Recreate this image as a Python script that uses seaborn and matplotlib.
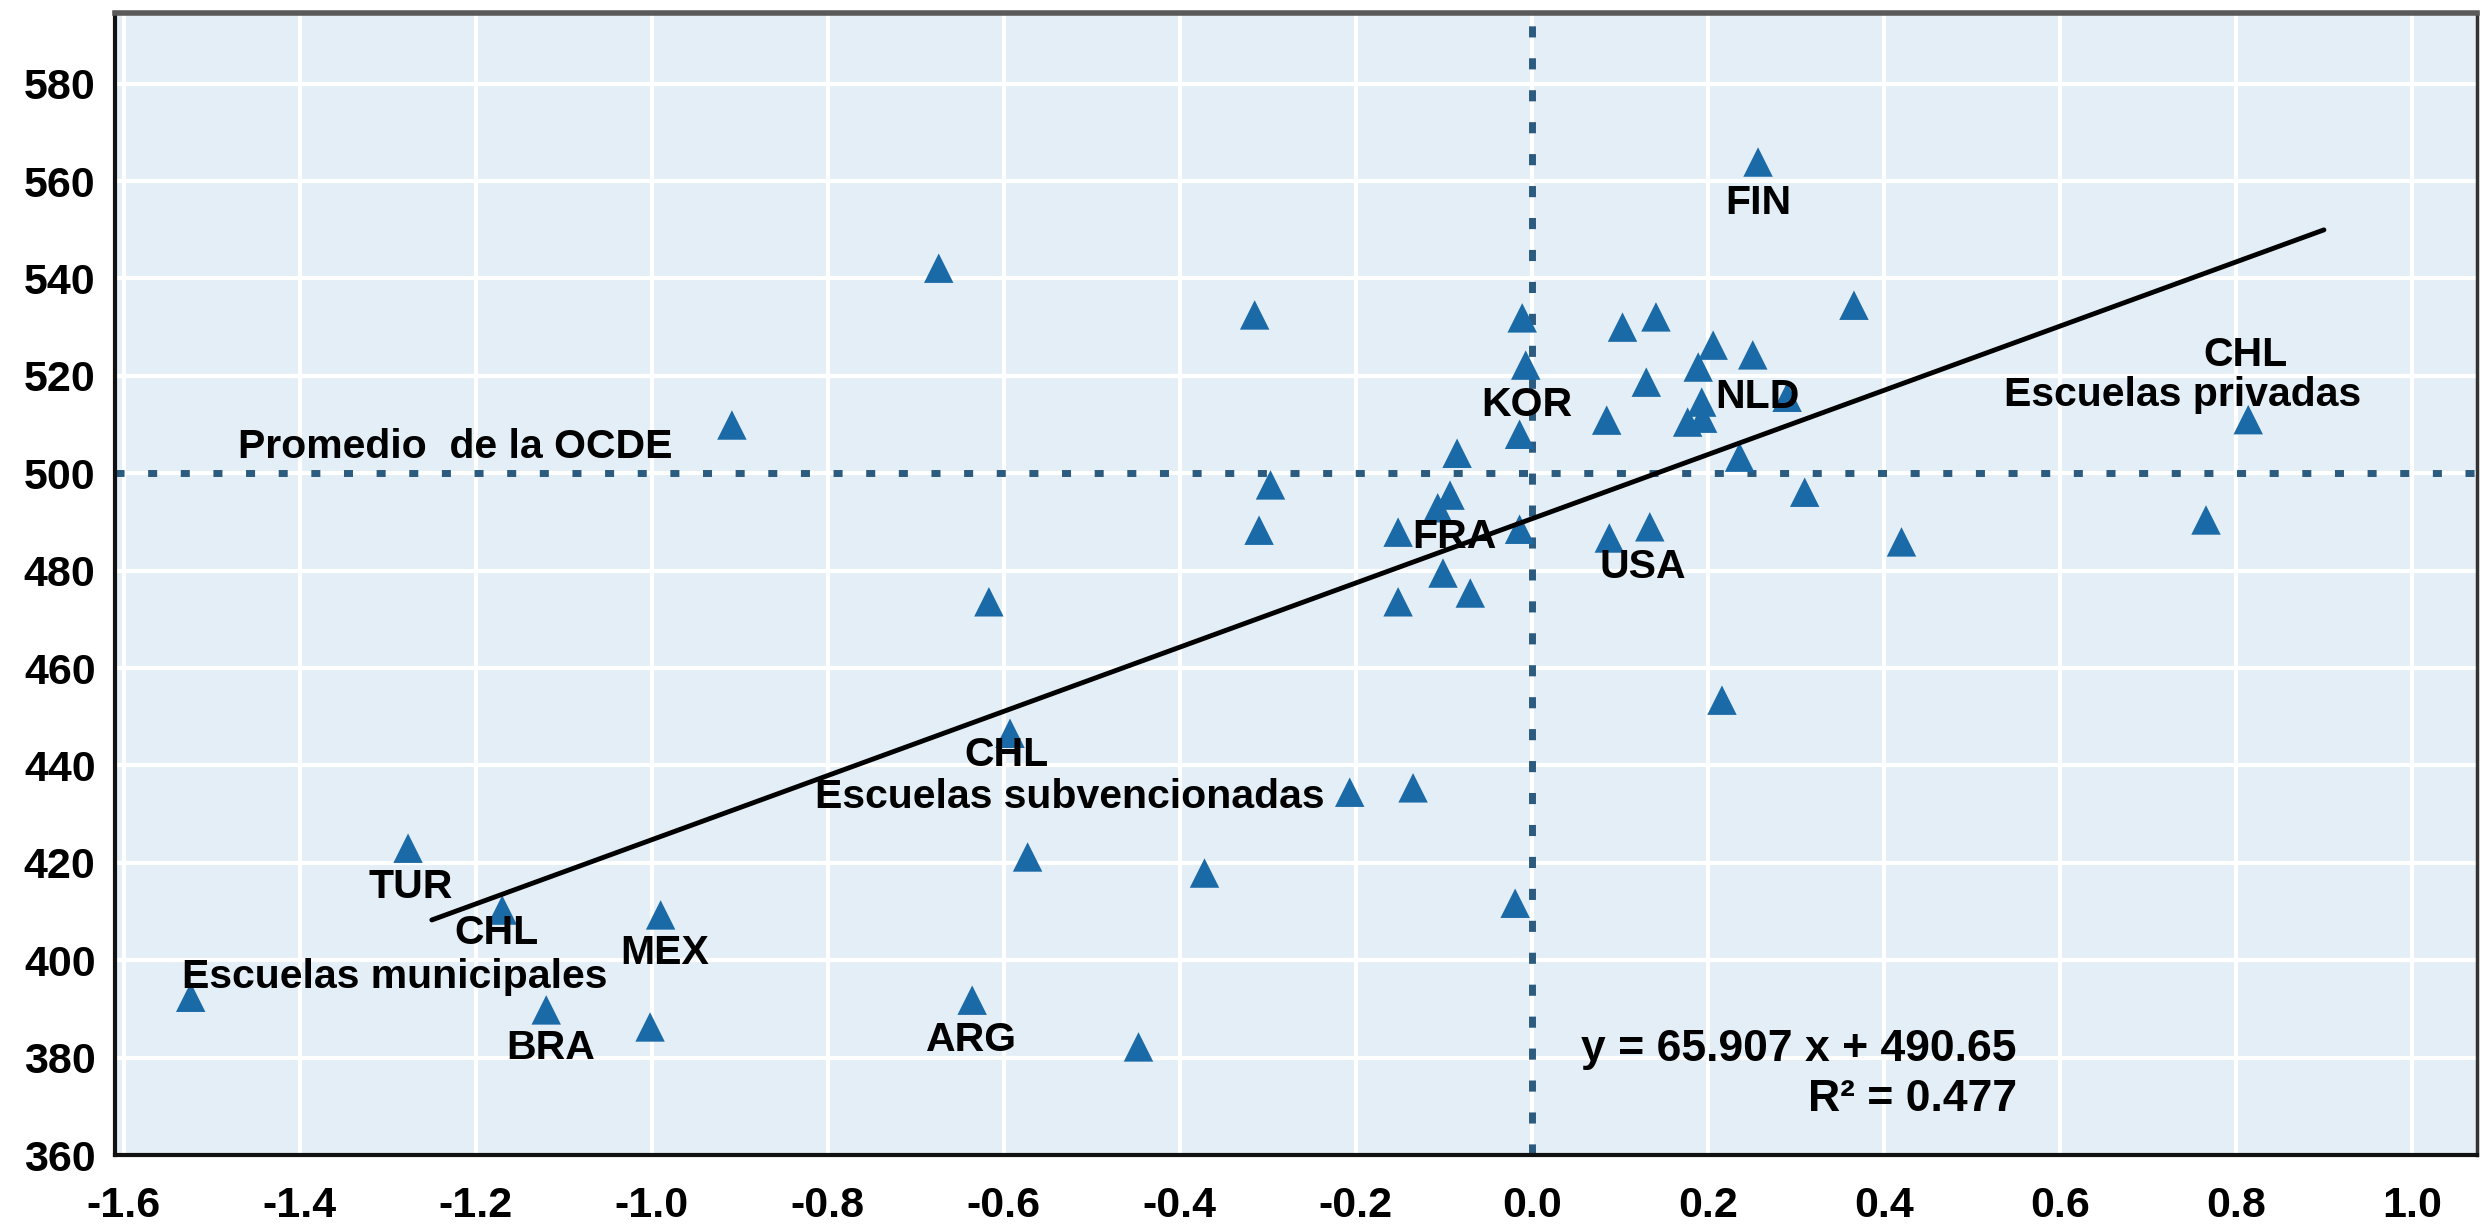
import matplotlib
matplotlib.use("Agg")
import matplotlib.pyplot as plt
import seaborn as sns
import pandas as pd

# índice socioeconómico (x) y puntuación media (y)
x_index = [-1.524, -1.277, -1.170, -1.120, -1.002, -0.990, -0.909, -0.674,
           -0.636, -0.617, -0.593, -0.573, -0.447, -0.372, -0.315, -0.310,
           -0.297, -0.207, -0.152, -0.152, -0.135, -0.107, -0.101, -0.093,
           -0.085, -0.070, -0.019, -0.014, -0.014, -0.011, -0.007, 0.085,
           0.088, 0.103, 0.130, 0.134, 0.141, 0.177, 0.189, 0.193, 0.194,
           0.206, 0.216, 0.236, 0.251, 0.257, 0.290, 0.310, 0.366, 0.420,
           0.766, 0.814]
score = [392.4, 423.0, 410.3, 389.8, 386.3, 409.3, 509.9, 542.1,
         391.8, 473.6, 446.6, 421.2, 382.2, 417.9, 532.5, 488.3,
         497.6, 434.5, 487.9, 473.6, 435.4, 492.9, 479.5, 495.5,
         504.1, 475.4, 411.7, 488.5, 508.0, 531.9, 522.2, 510.9,
         486.7, 530.0, 518.7, 489.0, 532.1, 510.5, 521.8, 514.6, 511.3,
         526.3, 453.4, 503.3, 524.3, 563.9, 515.6, 496.1, 534.5, 485.9,
         490.4, 511.0]

# recta de regresión
slope = 65.907
intercept = 490.65
line_x = [-1.25, 0.90]
oecd_mean = 500

x_ticks = [-1.6, -1.4, -1.2, -1.0, -0.8, -0.6, -0.4, -0.2, 0.0, 0.2, 0.4, 0.6, 0.8, 1.0]
y_ticks = [360, 380, 400, 420, 440, 460, 480, 500, 520, 540, 560, 580]

# etiquetas de texto: (texto, x, y)
labels = [
    ("FIN", 0.257, 555.5),
    ("KOR", -0.006, 514.0),
    ("NLD", 0.256, 515.6),
    ("FRA", -0.088, 486.9),
    ("USA", 0.126, 480.7),
    ("CHL", 0.811, 524.3),
    ("Escuelas privadas", 0.739, 516.0),
    ("CHL", -0.597, 442.1),
    ("Escuelas subvencionadas", -0.525, 433.5),
    ("TUR", -1.274, 415.0),
    ("CHL", -1.176, 405.6),
    ("Escuelas municipales", -1.292, 396.6),
    ("MEX", -0.985, 401.5),
    ("BRA", -1.115, 382.0),
    ("ARG", -0.637, 383.6),
]

df = pd.DataFrame({"x": x_index, "y": score})
line_df = pd.DataFrame({"x": line_x, "y": [slope * v + intercept for v in line_x]})

sns.set_theme(style="whitegrid")
plt.rcParams["font.family"] = ["Liberation Sans", "DejaVu Sans"]
plt.rcParams["font.weight"] = "bold"
plt.rcParams["text.color"] = "black"

bg = "#e3eef6"
dot_col = "#2b5b7e"
fs = 29.5
eq_fs = 32
tick_fs = 31

fig = plt.figure(figsize=(24.84, 12.26), dpi=100)
ax = fig.add_axes([0.0463, 0.0579, 0.9509, 0.9315])
ax.set_facecolor(bg)

sns.scatterplot(data=df, x="x", y="y", marker="^", s=450, color="#1b6aa8",
                edgecolor="none", linewidth=0, ax=ax, zorder=3)
sns.lineplot(data=line_df, x="x", y="y", color="black", lw=3.5, ax=ax, zorder=4)

ax.axhline(oecd_mean, color=dot_col, lw=5, ls=(0, (1.3, 3.4)), zorder=2.5)
ax.axvline(0, color=dot_col, lw=5, ls=(0, (1.6, 3.0)), zorder=2.5)

for txt, tx, ty in labels:
    ax.text(tx, ty, txt, ha="center", va="center", fontsize=fs, color="black", zorder=6)

ax.text(-1.47, 505.4, "Promedio  de la OCDE", ha="left", va="center",
        fontsize=fs, color="black", zorder=6)
ax.text(0.551, 381.6, "y = 65.907 x + 490.65", ha="right", va="center",
        fontsize=eq_fs, color="black", zorder=6)
ax.text(0.551, 371.3, "R² = 0.477", ha="right", va="center",
        fontsize=eq_fs, color="black", zorder=6)

ax.set_xlim(-1.61, 1.074)
ax.set_ylim(360, 594.5)
ax.set_xticks(x_ticks)
ax.set_xticklabels([f"{v:.1f}" for v in x_ticks])
ax.set_yticks(y_ticks)
ax.set_yticklabels([str(v) for v in y_ticks])
ax.set_xlabel("")
ax.set_ylabel("")

ax.grid(True, color="white", lw=3)
ax.set_axisbelow(True)
ax.tick_params(axis="both", direction="in", length=11, width=2.5, color="#333333",
               labelsize=tick_fs, labelcolor="black")
ax.tick_params(axis="x", pad=22)
ax.tick_params(axis="y", pad=14)
for lab in ax.get_xticklabels() + ax.get_yticklabels():
    lab.set_fontweight("bold")

for side in ["left", "bottom"]:
    ax.spines[side].set_color("#111111")
    ax.spines[side].set_linewidth(3)
ax.spines["top"].set_color("#5a5a5a")
ax.spines["top"].set_linewidth(4)
ax.spines["right"].set_color("#333333")
ax.spines["right"].set_linewidth(2.5)

fig.savefig("out.png", dpi=100, facecolor="white")
